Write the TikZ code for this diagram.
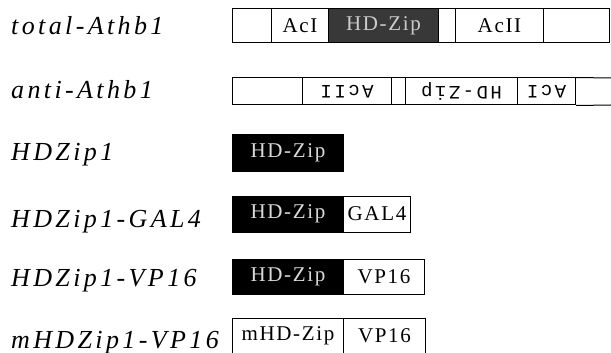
\documentclass[tikz,border=0pt]{standalone}
\usepackage{fontspec}
\setmainfont{Liberation Serif}
\newfontfamily\labfont[LetterSpace=13]{Liberation Serif}
\newfontfamily\boxfont[LetterSpace=8]{Liberation Serif}
\newfontfamily\monofont[LetterSpace=13]{Liberation Mono}
\begin{document}
\begin{tikzpicture}[x=1pt,y=-1pt,
  lab/.style={anchor=base west,inner sep=0pt,font=\labfont\itshape\fontsize{26}{29}\selectfont},
  cell/.style={draw=black,line width=1pt,inner sep=0pt,anchor=west,font=\boxfont\fontsize{21}{24}\selectfont},
  dark/.style={cell,fill=black,text=white!85!black},
  grey/.style={cell,fill=black!78,text=white!80!black},
  mono/.style={cell,font=\monofont\fontsize{19}{22}\selectfont}]
\useasboundingbox (0,0) rectangle (611,353);
% labels
\node[lab] (l1) at (11,35) {total-Athb1};
\node[lab] (l2) at (11,99) {anti-Athb1};
\node[lab] (l3) at (11,160) {HDZip1};
\node[lab] (l4) at (11,227) {HDZip1-GAL4};
\node[lab] (l5) at (11,286) {HDZip1-VP16};
\node[lab] (l6) at (11,348) {mHDZip1-VP16};
% row 1
\begin{scope}[every node/.append style={minimum height=34pt}]
\node[cell,minimum width=39pt] (a1) at (232,26) {};
\node[cell,minimum width=57pt] (a2) at (271,26) {AcI};
\node[grey,minimum width=110pt] (a3) at (328,26) {HD-Zip};
\node[cell,minimum width=17pt] (a4) at (438,26) {};
\node[cell,minimum width=88pt] (a5) at (455,26) {AcII};
\node[cell,minimum width=66pt] (a6) at (543,26) {};
\end{scope}
% row 2
\begin{scope}[every node/.append style={minimum height=27pt}]
\node[mono,minimum width=70pt] (b1) at (232,91.5) {};
\node[mono,minimum width=89pt] (b2) at (302,91.5) {\rotatebox{180}{AcII}};
\node[mono,minimum width=14pt] (b3) at (391,91.5) {};
\node[mono,minimum width=112pt] (b4) at (405,91.5) {\rotatebox{180}{HD-Zip}};
\node[mono,minimum width=58pt] (b5) at (517,91.5) {\rotatebox{180}{AcI}};
\end{scope}
\coordinate (b6ne) at (611,78);
\coordinate (b6se) at (611,105);
\draw[line width=1pt] (b5.north east) -- (b6ne) (b5.south east) -- (b6se);
% row 3
\node[dark,minimum width=111pt,minimum height=37pt] (c1) at (232,152.5) {HD-Zip};
% row 4
\node[dark,minimum width=111pt,minimum height=36pt] (d1) at (232,214) {HD-Zip};
\node[cell,minimum width=67pt,minimum height=36pt] (d2) at (343,214) {GAL4};
% row 5
\node[dark,minimum width=111pt,minimum height=35pt] (e1) at (232,276.5) {HD-Zip};
\node[cell,minimum width=81pt,minimum height=35pt] (e2) at (343,276.5) {VP16};
% row 6
\node[cell,minimum width=111pt,minimum height=36pt] (f1) at (232,336) {mHD-Zip};
\node[cell,minimum width=82pt,minimum height=36pt] (f2) at (343,336) {VP16};
\end{tikzpicture}
\end{document}
